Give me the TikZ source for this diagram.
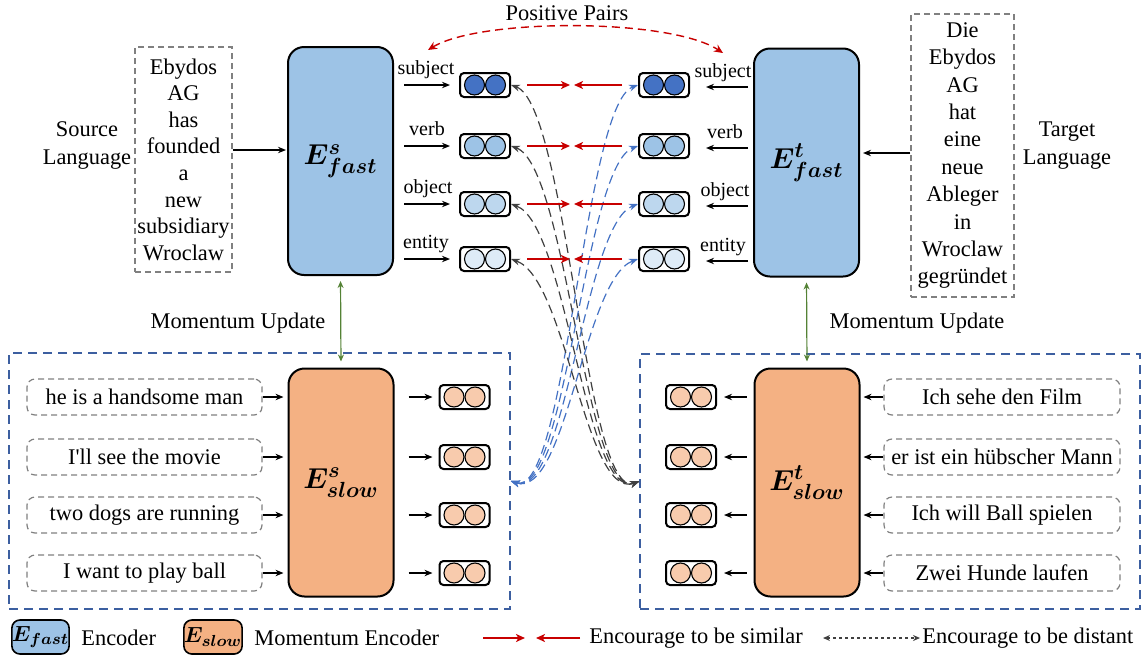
\documentclass[tikz,border=0pt]{standalone}
\usepackage{fontspec}
\setmainfont{Liberation Serif}
\usetikzlibrary{arrows.meta,calc}

\definecolor{fastfill}{RGB}{157,195,230}
\definecolor{slowfill}{RGB}{244,177,131}
\definecolor{slowdot}{RGB}{248,203,173}
\definecolor{embA}{RGB}{68,114,196}
\definecolor{embB}{RGB}{157,195,230}
\definecolor{embC}{RGB}{189,215,238}
\definecolor{embD}{RGB}{222,235,247}
\definecolor{simred}{RGB}{200,0,0}
\definecolor{distgray}{RGB}{64,64,64}
\definecolor{distblue}{RGB}{68,114,196}
\definecolor{groupblue}{RGB}{60,95,160}
\definecolor{boxgray}{RGB}{128,128,128}
\definecolor{momgreen}{RGB}{84,130,53}

% one embedding: rounded box holding two circles
\newcommand{\embnode}[3]{%
  \node[embbox] (#1) at (#2) {};
  \node[embdot, fill=#3] (#1a) at ($(#1.center)+(-5.25pt,0)$) {};
  \node[embdot, fill=#3] (#1b) at ($(#1.center)+(5.25pt,0)$) {};
}

\begin{document}
\begin{tikzpicture}[x=0.5pt, y=-0.5pt,
  font=\fontsize{11.2}{13.5}\selectfont,
  encoder/.style={draw, line width=1pt, rounded corners=8pt, minimum width=52.5pt, minimum height=114pt, inner sep=0pt, font=\fontsize{15}{17}\selectfont\boldmath},
  embbox/.style={draw, line width=1pt, rounded corners=2pt, minimum width=25pt, minimum height=12pt, inner sep=0pt},
  embdot/.style={circle, draw, line width=0.55pt, minimum size=10pt, inner sep=0pt},
  wordbox/.style={draw=boxgray, dash pattern=on 3pt off 2pt, line width=0.6pt, align=center, inner sep=0pt},
  sentbox/.style={draw=boxgray, dash pattern=on 3pt off 2pt, line width=0.6pt, rounded corners=4pt, minimum width=117.5pt, minimum height=18pt, inner sep=0pt},
  groupbox/.style={draw=groupblue, dash pattern=on 4.5pt off 3pt, line width=0.75pt, inner sep=0pt},
  lbl/.style={font=\fontsize{10}{12}\selectfont, inner sep=0pt},
  arr/.style={-{Stealth[length=4pt,width=3.2pt]}, line width=0.65pt},
  sim/.style={-{Stealth[length=4.5pt,width=4pt,inset=1.2pt]}, draw=simred, line width=0.9pt},
  distk/.style={{Stealth[length=4.5pt,width=3.4pt]}-{Stealth[length=4.5pt,width=3.4pt]}, draw=distgray, line width=0.6pt, dash pattern=on 4.5pt off 2.5pt},
  distb/.style={{Stealth[length=4.5pt,width=3.4pt]}-{Stealth[length=4.5pt,width=3.4pt]}, draw=distblue, line width=0.6pt, dash pattern=on 4.5pt off 2.5pt},
  mom/.style={{Stealth[length=3.5pt,width=3pt]}-{Stealth[length=3.5pt,width=3pt]}, draw=momgreen, line width=0.6pt},
  legbox/.style={draw, line width=0.8pt, rounded corners=4pt, minimum width=28.5pt, minimum height=17pt, inner sep=0pt, font=\fontsize{11}{13}\selectfont\boldmath}
]
\useasboundingbox (0,0) rectangle (1144,659);

% ---------- dashed groups around the momentum encoders ----------
\node[groupbox, minimum width=250.5pt, minimum height=128pt] (GL) at (259.5,481) {};
\node[groupbox, minimum width=250pt, minimum height=127.5pt] (GR) at (890,481.5) {};

% ---------- fast encoders and their inputs ----------
\node[encoder, fill=fastfill] (Esf) at (340.5,161) {$E^{s}_{fast}$};
\node[encoder, fill=fastfill] (Etf) at (806.5,162.5) {$E^{t}_{fast}$};

\node[wordbox, minimum width=48.5pt, minimum height=112.5pt, font=\fontsize{11.2}{13.3}\selectfont] (src) at (183.5,159.5)
  {Ebydos\\AG\\has\\founded\\a\\new\\subsidiary\\Wroclaw};
\node[wordbox, minimum width=51.5pt, minimum height=141.5pt, font=\fontsize{11.2}{13.7}\selectfont] (tgt) at (962.5,155.5)
  {Die\\Ebydos\\AG\\hat\\eine\\neue\\Ableger\\in\\Wroclaw\\gegründet};

\node[align=center, font=\fontsize{11.2}{14}\selectfont] (srcl) at (87,145) {Source\\Language};
\node[align=center, font=\fontsize{11.2}{14}\selectfont] (tgtl) at (1067,146) {Target\\Language};

\coordinate (srcy) at (0,150);
\draw[arr, shorten >=0.5pt] (src.east |- srcy) -- (Esf.west |- srcy);
\coordinate (tgty) at (0,153);
\draw[arr, shorten >=1.5pt] (tgt.west |- tgty) -- (Etf.east |- tgty);

% ---------- positive pairs ----------
\node (pptext) at (567,13) {Positive Pairs};
\coordinate (ppl) at (428,50);
\coordinate (ppr) at (723,53);
\draw[{Stealth[length=4.5pt,width=4pt]}-{Stealth[length=4.5pt,width=4pt]}, draw=simred, line width=0.7pt, dash pattern=on 4pt off 2.5pt]
  (ppl) .. controls (480,18) and (670,18) .. (ppr);

% ---------- slow encoders ----------
\node[encoder, fill=slowfill] (Ess) at (341,482.5) {$E^{s}_{slow}$};
\node[encoder, fill=slowfill] (Ets) at (807,482.5) {$E^{t}_{slow}$};

\draw[mom, shorten <=2.5pt, shorten >=3pt] (Esf.south) -- (Ess.north);
\draw[mom, shorten <=2.5pt, shorten >=3pt] (Etf.south) -- (Ets.north);
\node (mul) at (238,323) {Momentum Update};
\node (mur) at (917,323) {Momentum Update};

% ---------- token-level embeddings of the fast encoders ----------
\foreach \r/\y/\c/\t/\xl/\xr in {1/85/embA/subject/426/723, 2/146/embB/verb/427/725,
                                   3/204/embC/object/428/725, 4/259/embD/entity/426/723} {
  \embnode{L\r}{485,\y}{\c}
  \embnode{R\r}{664,\y}{\c}
  \node[lbl, anchor=base] (ls\r) at (\xl,\y-11) {\t};
  \node[lbl, anchor=base] (rs\r) at (\xr,\y-8) {\t};
  \draw[arr, shorten <=5pt, shorten >=4.5pt] (Esf.east |- L\r) -- (L\r.west);
  \coordinate (Ra\r) at ([yshift=-1pt]R\r.east);
  \draw[arr, shorten <=2.5pt, shorten >=8pt] (Etf.west |- Ra\r) -- (Ra\r);
  \coordinate (M\r) at (572,\y);
  \draw[sim, shorten <=8pt, shorten >=1pt] (L\r.east) -- (M\r);
  \draw[sim, shorten <=8pt, shorten >=1pt] (R\r.west) -- (M\r);
  \draw[distk] (L\r.east) .. controls (567,\y+20) and (585,500) .. (GR.west);
  \draw[distb] (GL.east) .. controls (566,500) and (584,\y+20) .. (R\r.west);
}

% ---------- sentences and embeddings of the slow encoders ----------
\foreach \r/\y/\ls/\rs in {1/397/{he is a handsome man}/{Ich sehe den Film},
                           2/457/{I\textquotesingle ll see the movie}/{er ist ein hübscher Mann},
                           3/515/{two dogs are running}/{Ich will Ball spielen},
                           4/573/{I want to play ball}/{Zwei Hunde laufen}} {
  \node[sentbox] (S\r) at (144.5,\y) {\ls};
  \node[sentbox, minimum width=118pt] (T\r) at (1002,\y) {\rs};
  \embnode{O\r}{464.5,\y}{slowdot}
  \embnode{P\r}{691,\y}{slowdot}
  \draw[arr, shorten >=2pt] (S\r.east) -- (S\r.east -| Ess.west);
  \draw[arr, shorten <=7pt, shorten >=3pt] (Ess.east |- O\r) -- (O\r.west);
  \draw[arr, shorten <=3.5pt, shorten >=3.5pt] (Ets.west |- P\r) -- (P\r.east);
  \draw[arr, shorten >=1.5pt] (T\r.west) -- (T\r.west -| Ets.east);
}

% ---------- legend ----------
\node[legbox, fill=fastfill] (lgf) at (40.5,637) {$E_{fast}$};
\node[anchor=west, inner sep=0pt] (lgft) at (81,638) {Encoder};
\node[legbox, fill=slowfill] (lgs) at (213,637) {$E_{slow}$};
\node[anchor=west, inner sep=0pt] (lgst) at (254,638) {Momentum Encoder};
\coordinate (lr1) at (483,638);
\coordinate (lrm) at (530.5,638);
\coordinate (lr2) at (580,638);
\draw[sim, shorten >=2.75pt] (lr1) -- (lrm);
\draw[sim, shorten >=2.75pt] (lr2) -- (lrm);
\node[anchor=west, inner sep=0pt] (lgrt) at (589,638) {Encourage to be similar};
\coordinate (lg1) at (823,638);
\coordinate (lg2) at (920,638);
\draw[{Stealth[length=3.5pt,width=3pt]}-{Stealth[length=3.5pt,width=3pt]}, draw=distgray, line width=0.6pt, dash pattern=on 1.5pt off 1.5pt] (lg1) -- (lg2);
\node[anchor=west, inner sep=0pt] (lggt) at (922,638) {Encourage to be distant};
\end{tikzpicture}
\end{document}
